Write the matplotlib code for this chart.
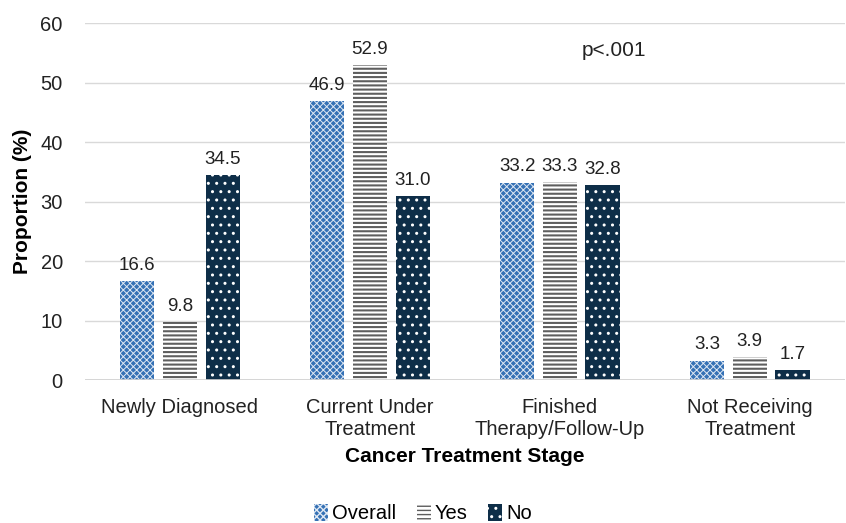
import matplotlib.pyplot as plt
import numpy as np

plt.rcParams['font.family'] = ['Liberation Sans', 'DejaVu Sans']

stages = ["Newly Diagnosed", "Current Under\nTreatment",
          "Finished\nTherapy/Follow-Up", "Not Receiving\nTreatment"]
overall = [16.6, 46.9, 33.2, 3.3]
yes = [9.8, 52.9, 33.3, 3.9]
no = [34.5, 31.0, 32.8, 1.7]

fig = plt.figure(figsize=(8.46, 5.23), dpi=100)
ax = fig.add_axes([0.1005, 0.273, 0.898, 0.683])

x = np.arange(len(stages))
w = 0.18
step = 0.225

# name, values, face colour, hatch colour, hatch, hatch line width
series = [
    ("Overall", overall, "#3571b5", "#dfe8f3", "xxxxx", 0.7),
    ("Yes", yes, "white", "#5e5e5e", "----", 1.5),
    ("No", no, "#0e2e48", "white", "..", 1.0),
]
handles = []
for i, (name, vals, fc, hc, hatch, hlw) in enumerate(series):
    pos = x + (i - 1) * step
    with plt.rc_context({'hatch.linewidth': hlw}):
        bars = ax.bar(pos, vals, width=w, color=fc, edgecolor=hc, hatch=hatch,
                      linewidth=0, label=name, zorder=3)
        for b in bars:
            if hasattr(b, "set_hatch_linewidth"):
                b.set_hatch_linewidth(hlw)
    handles.append(bars)
    for p, v in zip(pos, vals):
        ax.text(p, v + 1.2, f"{v:.1f}", ha="center", va="bottom",
                fontsize=13.5, color="#222222")

ax.set_xlim(-0.5, 3.5)
ax.set_ylim(0, 60)
ax.set_yticks(range(0, 61, 10))
ax.set_xticks(x)
ax.set_xticklabels(stages, fontsize=14.5, color="#222222", linespacing=1.15)
ax.tick_params(axis="y", labelsize=14.5, labelcolor="#222222", length=0, pad=16)
ax.tick_params(axis="x", length=0, pad=13)
ax.grid(axis="y", color="#d9d9d9", linewidth=1, zorder=0)
for s in ax.spines.values():
    s.set_visible(False)
ax.axhline(0, color="#d0d0d0", linewidth=1.2, zorder=4)

ax.set_ylabel("Proportion (%)", fontsize=15, fontweight="bold", labelpad=6)
ax.set_xlabel("Cancer Treatment Stage", fontsize=15, fontweight="bold", labelpad=6)

ax.text(2.285, 54.5, "p<.001", fontsize=15, color="#222222", ha="center")

fig.legend(handles=handles, labels=["Overall", "Yes", "No"], loc="lower center",
           bbox_to_anchor=(0.5, -0.035), ncol=3, frameon=False, fontsize=14.5,
           handlelength=0.7, handleheight=0.9, handletextpad=0.2, columnspacing=1.0)

fig.savefig("out.png", dpi=100)
